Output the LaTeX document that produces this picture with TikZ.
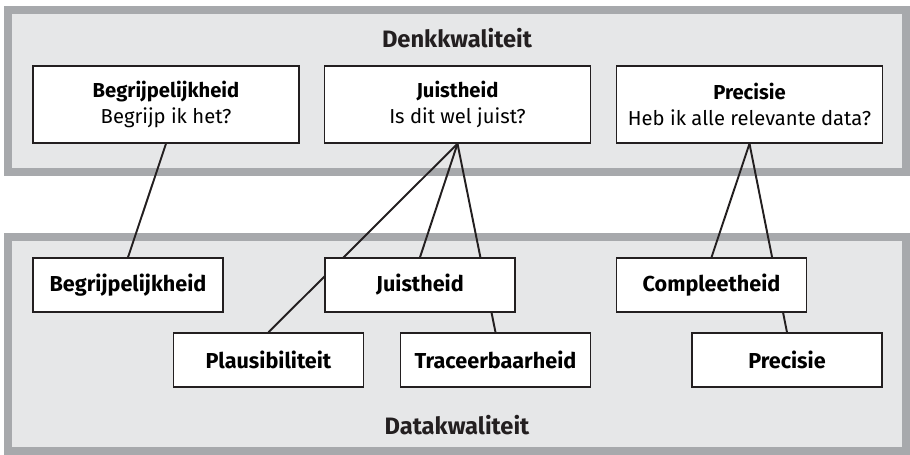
\documentclass[tikz,border=0pt]{standalone}
\usepackage{fontspec}
\setmainfont{Fira Sans}
\usetikzlibrary{positioning}
\definecolor{panelfill}{HTML}{E6E7E8}
\definecolor{panelrim}{HTML}{A7A9AC}
\definecolor{inkgray}{HTML}{231F20}
\pgfdeclarelayer{panels}
\pgfdeclarelayer{links}
\pgfsetlayers{panels,links,main}
\begin{document}
\begin{tikzpicture}[x=0.02cm, y=-0.02cm]
    % Styles
    \tikzstyle{panel} = [draw=panelrim, fill=panelfill, line width=0.16cm]
    \tikzstyle{questionbox} = [rectangle, draw=inkgray, fill=white, line width=0.8pt,
        minimum width=5.32cm, minimum height=1.54cm, align=center,
        font=\fontsize{11.5}{15}\selectfont]
    \tikzstyle{databox} = [rectangle, draw=inkgray, fill=white, line width=0.8pt,
        minimum width=3.8cm, minimum height=1.08cm,
        font=\fontsize{12.3}{15}\selectfont\bfseries]
    \tikzstyle{link} = [draw=inkgray, line width=1.1pt]
    \tikzstyle{paneltitle} = [font=\fontsize{13.5}{16}\selectfont\bfseries, text=inkgray]

    \useasboundingbox (0,0) rectangle (910,455);

    % === PANELS ===
    \begin{pgfonlayer}{panels}
    \draw [panel] (8,10) rectangle (906,172);
    \draw [panel] (8,237) rectangle (906,451);
    \end{pgfonlayer}
    \node [paneltitle] (denk) at (457,38) {Denkkwaliteit};
    \node [paneltitle] (data) at (457,425) {Datakwaliteit};

    % === TOP ROW: Denkkwaliteit ===
    \node [questionbox] (qbegrip) at (166,104.5) {\textbf{Begrijpelijkheid}\\Begrijp ik het?};
    \node [questionbox] (qjuist) at (457.5,104.5) {\textbf{Juistheid}\\Is dit wel juist?};
    \node [questionbox] (qprecisie) at (749.5,104.5) {\textbf{Precisie}\\Heb ik alle relevante data?};

    % === BOTTOM ROWS: Datakwaliteit ===
    \node [databox] (dbegrip) at (128,285) {Begrijpelijkheid};
    \node [databox] (djuist) at (420,285) {Juistheid};
    \node [databox] (dcompleet) at (711.5,285) {Compleetheid};
    \node [databox] (dplausibel) at (268.5,360) {Plausibiliteit};
    \node [databox] (dtraceer) at (495.5,360) {Traceerbaarheid};
    \node [databox] (dprecisie) at (787,360) {Precisie};

    % === LINKS ===
    \begin{pgfonlayer}{links}
    \draw [link] (qbegrip.south) -- (dbegrip.north);
    \draw [link] (qjuist.south) -- (djuist.north);
    \draw [link] (qjuist.south) -- (dplausibel.north);
    \draw [link] (qjuist.south) -- (dtraceer.north);
    \draw [link] (qprecisie.south) -- (dcompleet.north);
    \draw [link] (qprecisie.south) -- (dprecisie.north);
    \end{pgfonlayer}

\end{tikzpicture}
\end{document}
